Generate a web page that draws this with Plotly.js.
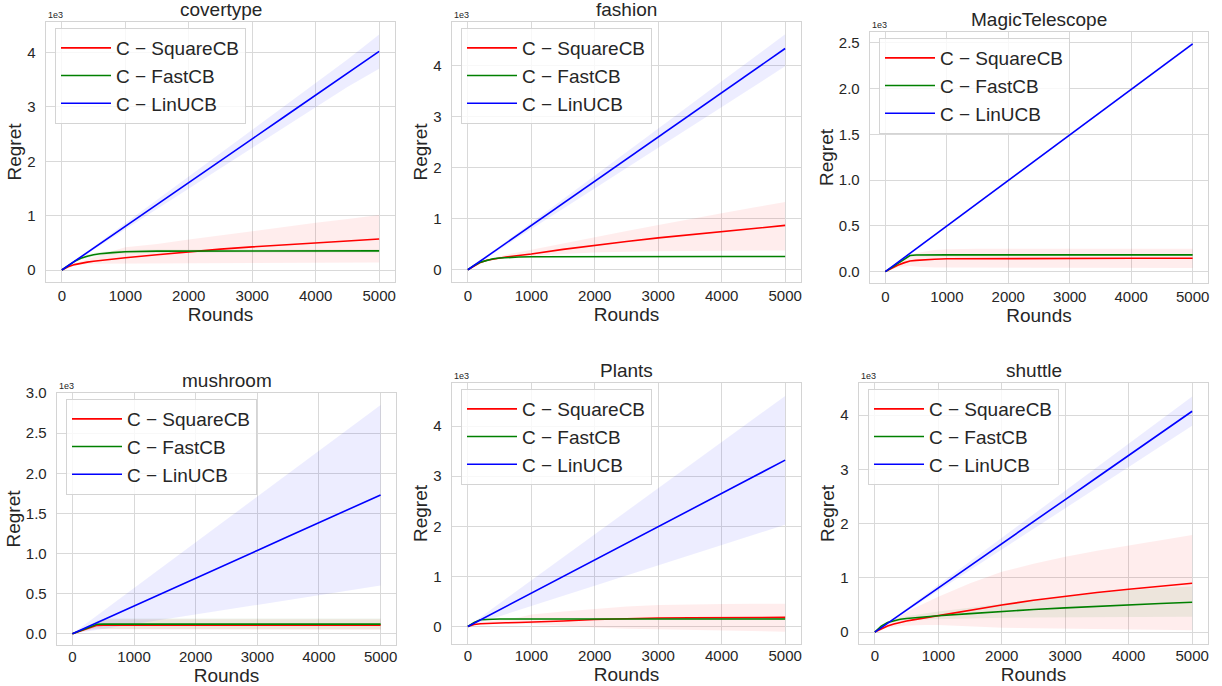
<!DOCTYPE html>
<html>
<head>
<meta charset="utf-8">
<script src="https://cdn.plot.ly/plotly-3.0.1.min.js"></script>
<style>html,body{margin:0;padding:0;background:#fff;}#chart{width:1222px;height:686px;}</style>
</head>
<body>
<div id="chart"></div>
<script>
// ---------------- data (regret, raw units; axes show ×1e3) ----------------
const rounds = [0, 100, 200, 300, 400, 500, 600, 800, 1000, 1500, 2000, 2500, 3000, 3500, 4000, 4500, 5000];
const datasets = ["covertype", "fashion", "MagicTelescope", "mushroom", "Plants", "shuttle"];
const algorithms = ["C − SquareCB", "C − FastCB", "C − LinUCB"];
const yTickVals = [[0,1,2,3,4],[0,1,2,3,4],[0,0.5,1,1.5,2,2.5],[0,0.5,1,1.5,2,2.5,3],[0,1,2,3,4],[0,1,2,3,4]];
const xTickVals = [0, 1000, 2000, 3000, 4000, 5000];

// covertype
const covertype_SquareCB    = [0, 60, 100, 125, 145, 160, 175, 200, 225, 280, 335, 385, 425, 465, 500, 535, 570];
const covertype_SquareCB_hi = [0, 70, 120, 160, 200, 240, 280, 350, 420, 480, 560, 640, 720, 800, 870, 940, 1010];
const covertype_SquareCB_lo = [0, 50, 85, 100, 110, 115, 120, 125, 128, 130, 130, 132, 133, 135, 137, 138, 140];
const covertype_FastCB      = [0, 85, 160, 215, 255, 280, 300, 320, 335, 348, 350, 352, 352, 352, 352, 352, 352];
const covertype_FastCB_hi   = [0, 95, 180, 240, 285, 312, 332, 352, 367, 378, 380, 382, 382, 382, 382, 382, 382];
const covertype_FastCB_lo   = [0, 75, 140, 190, 225, 248, 268, 288, 303, 318, 320, 322, 322, 322, 322, 322, 322];
const covertype_LinUCB      = [0, 80, 161, 241, 322, 402, 482, 643, 804, 1206, 1608, 2010, 2412, 2814, 3216, 3618, 4020];
const covertype_LinUCB_hi   = [0, 85, 171, 257, 343, 429, 515, 688, 860, 1290, 1720, 2150, 2580, 3010, 3440, 3870, 4330];
const covertype_LinUCB_lo   = [0, 75, 151, 225, 301, 375, 450, 598, 748, 1122, 1496, 1870, 2244, 2618, 2992, 3366, 3700];

// fashion
const fashion_SquareCB    = [0, 80, 145, 185, 210, 230, 250, 280, 310, 400, 480, 555, 625, 690, 750, 810, 870];
const fashion_SquareCB_hi = [0, 85, 155, 200, 235, 265, 295, 345, 395, 520, 640, 760, 880, 1000, 1110, 1220, 1330];
const fashion_SquareCB_lo = [0, 75, 140, 175, 200, 215, 230, 250, 270, 310, 340, 355, 365, 370, 375, 378, 380];
const fashion_FastCB      = [0, 85, 150, 190, 215, 230, 240, 250, 255, 258, 260, 260, 260, 260, 260, 260, 260];
const fashion_FastCB_hi   = [0, 95, 162, 202, 227, 242, 252, 262, 267, 270, 272, 272, 272, 272, 272, 272, 272];
const fashion_FastCB_lo   = [0, 75, 138, 178, 203, 218, 228, 238, 243, 246, 248, 248, 248, 248, 248, 248, 248];
const fashion_LinUCB      = [0, 87, 174, 260, 347, 434, 521, 694, 868, 1302, 1736, 2170, 2604, 3038, 3472, 3906, 4340];
const fashion_LinUCB_hi   = [0, 93, 185, 277, 369, 462, 555, 739, 924, 1386, 1848, 2310, 2772, 3234, 3696, 4158, 4620];
const fashion_LinUCB_lo   = [0, 80, 160, 239, 319, 399, 479, 638, 798, 1197, 1596, 1995, 2394, 2793, 3192, 3591, 3990];

// MagicTelescope
const MagicTelescope_SquareCB    = [0, 35, 70, 95, 115, 122, 128, 135, 140, 142, 143, 144, 145, 145, 145, 145, 145];
const MagicTelescope_SquareCB_hi = [0, 45, 95, 140, 180, 200, 215, 235, 245, 250, 250, 250, 250, 250, 250, 250, 250];
const MagicTelescope_SquareCB_lo = [0, 25, 45, 55, 60, 55, 50, 45, 40, 38, 38, 38, 38, 38, 38, 38, 38];
const MagicTelescope_FastCB      = [0, 45, 90, 135, 175, 182, 183, 183, 183, 183, 183, 183, 183, 183, 183, 183, 183];
const MagicTelescope_FastCB_hi   = [0, 50, 100, 145, 185, 192, 193, 193, 193, 193, 193, 193, 193, 193, 193, 193, 193];
const MagicTelescope_FastCB_lo   = [0, 40, 80, 125, 165, 172, 173, 173, 173, 173, 173, 173, 173, 173, 173, 173, 173];
const MagicTelescope_LinUCB      = [0, 50, 100, 149, 199, 249, 299, 398, 498, 747, 996, 1245, 1494, 1743, 1992, 2241, 2490];
const MagicTelescope_LinUCB_hi   = [0, 50, 101, 150, 201, 251, 301, 401, 501, 752, 1002, 1253, 1503, 1754, 2004, 2255, 2505];
const MagicTelescope_LinUCB_lo   = [0, 50, 99, 148, 197, 247, 297, 395, 495, 742, 990, 1237, 1485, 1732, 1980, 2227, 2475];

// mushroom
const mushroom_SquareCB    = [0, 28, 55, 82, 105, 108, 108, 108, 108, 108, 108, 108, 108, 108, 108, 108, 108];
const mushroom_SquareCB_hi = [0, 38, 75, 110, 150, 175, 180, 180, 180, 180, 180, 180, 180, 180, 180, 180, 180];
const mushroom_SquareCB_lo = [0, 18, 35, 50, 60, 55, 50, 50, 50, 50, 50, 50, 50, 50, 50, 50, 50];
const mushroom_FastCB      = [0, 30, 60, 90, 118, 120, 120, 120, 120, 120, 120, 120, 120, 120, 120, 120, 120];
const mushroom_FastCB_hi   = [0, 40, 80, 120, 160, 185, 190, 190, 190, 190, 190, 190, 190, 190, 190, 190, 190];
const mushroom_FastCB_lo   = [0, 20, 40, 60, 70, 60, 55, 55, 55, 55, 55, 55, 55, 55, 55, 55, 55];
const mushroom_LinUCB      = [0, 35, 69, 104, 138, 173, 208, 277, 346, 519, 692, 865, 1038, 1211, 1384, 1557, 1730];
const mushroom_LinUCB_hi   = [0, 57, 114, 171, 228, 285, 342, 456, 570, 855, 1140, 1425, 1710, 1995, 2280, 2565, 2850];
const mushroom_LinUCB_lo   = [0, 12, 24, 36, 48, 60, 72, 96, 120, 180, 240, 300, 360, 420, 480, 540, 600];

// Plants
const Plants_SquareCB    = [0, 40, 55, 62, 66, 70, 73, 78, 85, 110, 140, 160, 170, 175, 178, 180, 182];
const Plants_SquareCB_hi = [0, 50, 80, 100, 120, 135, 150, 180, 240, 300, 350, 400, 430, 445, 450, 452, 455];
const Plants_SquareCB_lo = [0, 35, 45, 50, 52, 53, 53, 52, 50, 20, -20, -45, -60, -75, -85, -95, -105];
const Plants_FastCB      = [0, 80, 135, 145, 148, 150, 150, 150, 150, 150, 150, 150, 150, 150, 150, 150, 150];
const Plants_FastCB_hi   = [0, 88, 143, 153, 156, 158, 158, 158, 158, 158, 158, 158, 158, 158, 158, 158, 158];
const Plants_FastCB_lo   = [0, 72, 127, 137, 140, 142, 142, 142, 142, 142, 142, 142, 142, 142, 142, 142, 142];
const Plants_LinUCB      = [0, 66, 133, 199, 266, 332, 398, 531, 664, 996, 1328, 1660, 1992, 2324, 2656, 2988, 3320];
const Plants_LinUCB_hi   = [0, 92, 184, 276, 368, 460, 552, 736, 920, 1380, 1840, 2300, 2760, 3220, 3680, 4140, 4600];
const Plants_LinUCB_lo   = [0, 41, 81, 122, 162, 203, 244, 325, 406, 609, 812, 1015, 1218, 1421, 1624, 1827, 2030];

// shuttle
const shuttle_SquareCB    = [0, 60, 110, 150, 180, 205, 225, 265, 300, 400, 500, 585, 660, 730, 790, 845, 900];
const shuttle_SquareCB_hi = [0, 80, 150, 230, 300, 370, 430, 540, 650, 900, 1110, 1260, 1390, 1500, 1600, 1700, 1790];
const shuttle_SquareCB_lo = [0, 45, 80, 100, 115, 120, 125, 130, 130, 110, 80, 70, 60, 50, 45, 40, 35];
const shuttle_FastCB      = [0, 110, 175, 210, 235, 250, 262, 282, 300, 340, 380, 415, 445, 475, 500, 525, 550];
const shuttle_FastCB_hi   = [0, 120, 190, 230, 265, 290, 310, 345, 380, 450, 530, 600, 660, 720, 770, 810, 840];
const shuttle_FastCB_lo   = [0, 100, 160, 190, 205, 215, 220, 230, 240, 255, 265, 270, 275, 275, 280, 280, 280];
const shuttle_LinUCB      = [0, 81, 163, 244, 326, 407, 488, 651, 814, 1221, 1628, 2035, 2442, 2849, 3256, 3663, 4070];
const shuttle_LinUCB_hi   = [0, 87, 174, 260, 347, 434, 521, 694, 868, 1302, 1736, 2170, 2604, 3038, 3472, 3906, 4340];
const shuttle_LinUCB_lo   = [0, 76, 152, 228, 304, 380, 456, 608, 760, 1140, 1520, 1900, 2280, 2660, 3040, 3420, 3800];

// ---------------- assembly ----------------
const series = {
  covertype: [[covertype_SquareCB, covertype_SquareCB_lo, covertype_SquareCB_hi],[covertype_FastCB, covertype_FastCB_lo, covertype_FastCB_hi],[covertype_LinUCB, covertype_LinUCB_lo, covertype_LinUCB_hi]],
  fashion: [[fashion_SquareCB, fashion_SquareCB_lo, fashion_SquareCB_hi],[fashion_FastCB, fashion_FastCB_lo, fashion_FastCB_hi],[fashion_LinUCB, fashion_LinUCB_lo, fashion_LinUCB_hi]],
  MagicTelescope: [[MagicTelescope_SquareCB, MagicTelescope_SquareCB_lo, MagicTelescope_SquareCB_hi],[MagicTelescope_FastCB, MagicTelescope_FastCB_lo, MagicTelescope_FastCB_hi],[MagicTelescope_LinUCB, MagicTelescope_LinUCB_lo, MagicTelescope_LinUCB_hi]],
  mushroom: [[mushroom_SquareCB, mushroom_SquareCB_lo, mushroom_SquareCB_hi],[mushroom_FastCB, mushroom_FastCB_lo, mushroom_FastCB_hi],[mushroom_LinUCB, mushroom_LinUCB_lo, mushroom_LinUCB_hi]],
  Plants: [[Plants_SquareCB, Plants_SquareCB_lo, Plants_SquareCB_hi],[Plants_FastCB, Plants_FastCB_lo, Plants_FastCB_hi],[Plants_LinUCB, Plants_LinUCB_lo, Plants_LinUCB_hi]],
  shuttle: [[shuttle_SquareCB, shuttle_SquareCB_lo, shuttle_SquareCB_hi],[shuttle_FastCB, shuttle_FastCB_lo, shuttle_FastCB_hi],[shuttle_LinUCB, shuttle_LinUCB_lo, shuttle_LinUCB_hi]]
};

const lineColors = ["#ff0000", "#008000", "#0000ff"];
const bandColors = ["rgba(255,0,0,0.07)", "rgba(0,128,0,0.07)", "rgba(0,0,255,0.07)"];
const FONT = 'Arial, "Liberation Sans", "DejaVu Sans", sans-serif';
const W = 1222, H = 686;
// plot areas in px: [left, right, top, bottom]
const boxes = [[46,395,22,282],[452,801,22,282],[870,1208,32,283],[57,396,393,645],[452,801,383,644],[859,1208,383,644]];
const yRanges = [[-0.22,4.56],[-0.24,4.86],[-0.125,2.62],[-0.14,3.0],[-0.35,4.86],[-0.22,4.59]];
const scale = 1000;

const traces = [];
const layout = {
  width: W, height: H,
  margin: {l:0, r:0, t:0, b:0},
  paper_bgcolor: "#ffffff", plot_bgcolor: "#ffffff",
  font: {family: FONT, color: "#262626"},
  showlegend: true,
  annotations: []
};

datasets.forEach((name, i) => {
  const s = i === 0 ? "" : String(i + 1);
  const xa = "x" + s, ya = "y" + s;
  const lg = "legend" + s;
  const b = boxes[i];
  const bottomRow = i >= 3;
  // bands
  series[name].forEach((arr, k) => {
    const lo = arr[1].map(v => v / scale), hi = arr[2].map(v => v / scale);
    traces.push({
      type: "scatter", mode: "lines", xaxis: xa, yaxis: ya,
      x: rounds.concat(rounds.slice().reverse()),
      y: hi.concat(lo.slice().reverse()),
      fill: "toself", fillcolor: bandColors[k],
      line: {width: 0, color: bandColors[k]},
      showlegend: false, hoverinfo: "skip", legend: lg
    });
  });
  // mean lines
  series[name].forEach((arr, k) => {
    traces.push({
      type: "scatter", mode: "lines", xaxis: xa, yaxis: ya,
      x: rounds, y: arr[0].map(v => v / scale),
      name: algorithms[k], legend: lg,
      line: {color: lineColors[k], width: 1.6}
    });
  });
  const axCommon = {
    showgrid: true, gridcolor: "#d9d9d9", gridwidth: 1,
    showline: true, linecolor: "#d4d4d4", linewidth: 1.3, mirror: true,
    zeroline: false, ticks: "", tickfont: {size: 15, color: "#262626", family: FONT}
  };
  layout["xaxis" + s] = Object.assign({}, axCommon, {
    domain: [b[0] / W, b[1] / W], anchor: ya, range: [-250, 5250],
    tickvals: xTickVals, ticklabelstandoff: bottomRow ? -2 : 0,
    title: {text: "Rounds", font: {size: 19, color: "#262626"}, standoff: 0}
  });
  layout["yaxis" + s] = Object.assign({}, axCommon, {
    domain: [1 - b[3] / H, 1 - b[2] / H], anchor: xa, range: yRanges[i],
    tickvals: yTickVals[i], tickformat: (i === 2 || i === 3) ? ".1f" : "d", ticklabelstandoff: 6,
    title: {text: "Regret", font: {size: 19, color: "#262626"}, standoff: 0}
  });
  layout[lg] = {
    x: (b[0] + 9) / W, y: 1 - (b[2] + 6) / H, xanchor: "left", yanchor: "top",
    xref: "paper", yref: "paper",
    bgcolor: "rgba(255,255,255,0.8)", bordercolor: "#d4d4d4", borderwidth: 1,
    font: {size: 19, color: "#262626", family: FONT},
    itemwidth: 50, tracegroupgap: 0
  };
  // title
  layout.annotations.push({
    text: name, xref: xa + " domain", yref: ya + " domain", x: 0.5, y: 1,
    xanchor: "center", yanchor: "bottom", yshift: 0, showarrow: false,
    font: {size: 19, color: "#262626"}
  });
  // offset text
  layout.annotations.push({
    text: "1e3", xref: xa + " domain", yref: ya + " domain", x: 0, y: 1,
    xanchor: "left", yanchor: "bottom", showarrow: false,
    font: {size: 9, color: "#262626"}
  });
});

Plotly.newPlot("chart", traces, layout, {displayModeBar: false, staticPlot: true});
</script>
</body>
</html>
